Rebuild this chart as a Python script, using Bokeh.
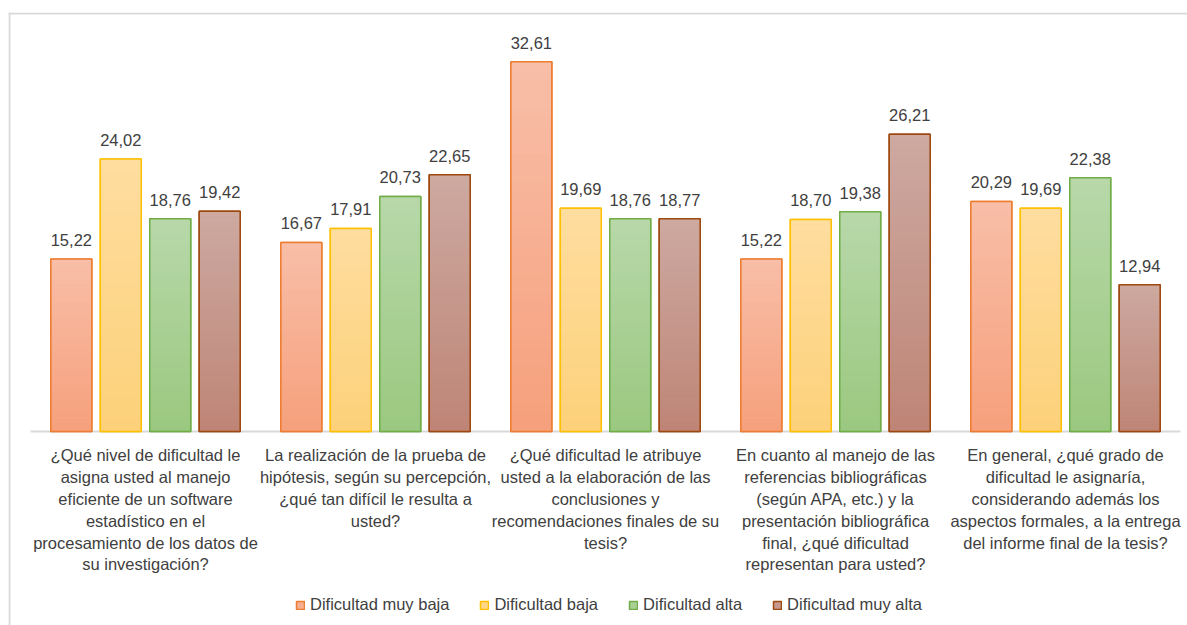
from bokeh.plotting import figure
from bokeh.models import ColumnDataSource, Range1d, Legend, LegendItem, Span
from bokeh.core.properties import value
from bokeh.embed import file_html
from bokeh.resources import INLINE

series = ["Dificultad muy baja", "Dificultad baja", "Dificultad alta", "Dificultad muy alta"]
muy_baja = [15.22, 16.67, 32.61, 15.22, 20.29]
baja = [24.02, 17.91, 19.69, 18.70, 19.69]
alta = [18.76, 20.73, 18.76, 19.38, 22.38]
muy_alta = [19.42, 22.65, 18.77, 26.21, 12.94]
values_by_series = [muy_baja, baja, alta, muy_alta]

categories = [
    ["¿Qué nivel de dificultad le", "asigna usted al manejo", "eficiente de un software",
     "estadístico en el", "procesamiento de los datos de", "su investigación?"],
    ["La realización de la prueba de", "hipótesis, según su percepción,",
     "¿qué tan difícil le resulta a", "usted?"],
    ["¿Qué dificultad le atribuye", "usted a la elaboración de las", "conclusiones y",
     "recomendaciones finales de su", "tesis?"],
    ["En cuanto al manejo de las", "referencias bibliográficas", "(según APA, etc.) y la",
     "presentación bibliográfica", "final, ¿qué dificultad", "representan para usted?"],
    ["En general, ¿qué grado de", "dificultad le asignaría,", "considerando además los",
     "aspectos formales, a la entrega", "del informe final de la tesis?"],
]

top_colors = ["#f8bea8", "#fedd9f", "#b8d8aa", "#cda9a1"]
bottom_colors = ["#f6a07c", "#fdd17a", "#9bc87f", "#be8576"]
line_colors = ["#ed7d31", "#ffc000", "#70ad47", "#9e480e"]

FONT = "Liberation Sans"
TXT = "#404040"
FS = "16.5px"

n_groups = len(categories)
bar_w = 0.178
step = 0.215

x0, x1 = -0.0957, 5.0304
y0, y1 = -17.11, 36.95
p = figure(width=1187, height=625, output_backend="svg", toolbar_location=None,
           x_range=Range1d(x0, x1), y_range=Range1d(y0, y1),
           x_axis_location=None, y_axis_location=None,
           min_border_left=8, min_border_right=0, min_border_bottom=0, min_border_top=12)
p.grid.visible = False
p.outline_line_color = None
p.background_fill_color = "white"
p.border_fill_color = "white"

# chart border (left and top edges; right/bottom lie outside the window)
p.add_layout(Span(location=x0 + 0.004, dimension="height", line_color="#d9d9d9", line_width=2))
p.add_layout(Span(location=y1 - 0.08, dimension="width", line_color="#d9d9d9", line_width=2))


def hex2rgb(h):
    h = h.lstrip("#")
    return tuple(int(h[i:i + 2], 16) for i in (0, 2, 4))


def mix(c1, c2, t):
    a = hex2rgb(c1)
    b = hex2rgb(c2)
    return "#%02x%02x%02x" % tuple(int(round(a[k] + (b[k] - a[k]) * t)) for k in range(3))


# baseline
p.segment(x0=[0], y0=[0], x1=[n_groups], y1=[0], line_color="#d9d9d9", line_width=2)

legend_items = []
NB = 40
for j, vals in enumerate(values_by_series):
    xs = [i + 0.5 + (j - 1.5) * step for i in range(n_groups)]
    base = p.vbar(x=xs, top=vals, bottom=0, width=bar_w,
                  fill_color=mix(top_colors[j], bottom_colors[j], 0.5),
                  line_color=line_colors[j], line_width=1.5)
    legend_items.append(LegendItem(label=series[j], renderers=[base]))
    # gradient bands
    bx, bb, bt, bc = [], [], [], []
    for x, v in zip(xs, vals):
        for k in range(NB):
            bx.append(x)
            bb.append(v * k / NB)
            bt.append(v * (k + 1) / NB + v * 0.002)
            bc.append(mix(top_colors[j], bottom_colors[j], 1 - (k + 0.5) / NB))
    p.vbar(x=bx, bottom=bb, top=bt, width=bar_w, fill_color=bc, line_color=None)
    p.vbar(x=xs, top=vals, bottom=0, width=bar_w, fill_color=None,
           line_color=line_colors[j], line_width=1.5)
    # value labels
    p.text(x=xs, y=vals, text=[f"{v:.2f}".replace(".", ",") for v in vals],
           text_align="center", text_baseline="alphabetic", y_offset=-19,
           text_font=value(FONT), text_font_size=FS, text_color=TXT)

# category labels
lx, ly, lt, lo = [], [], [], []
for i, lines in enumerate(categories):
    for k, line in enumerate(lines):
        lx.append(i + 0.5)
        ly.append(0)
        lt.append(line)
        lo.append(24 + 21.8 * k)
p.text(x="x", y="y", text="t", y_offset="o",
       source=ColumnDataSource(dict(x=lx, y=ly, t=lt, o=lo)),
       text_align="center", text_baseline="middle",
       text_font=value(FONT), text_font_size=FS, text_color=TXT)

legend = Legend(items=legend_items, orientation="horizontal", location=(287, 11),
                background_fill_alpha=0, border_line_color=None, padding=0, margin=0,
                spacing=30, label_standoff=5, glyph_width=10, glyph_height=10,
                label_height=16, label_text_font=FONT, label_text_font_size=FS,
                label_text_color=TXT)
p.add_layout(legend)

open("out.html", "w").write(file_html(p, INLINE))
